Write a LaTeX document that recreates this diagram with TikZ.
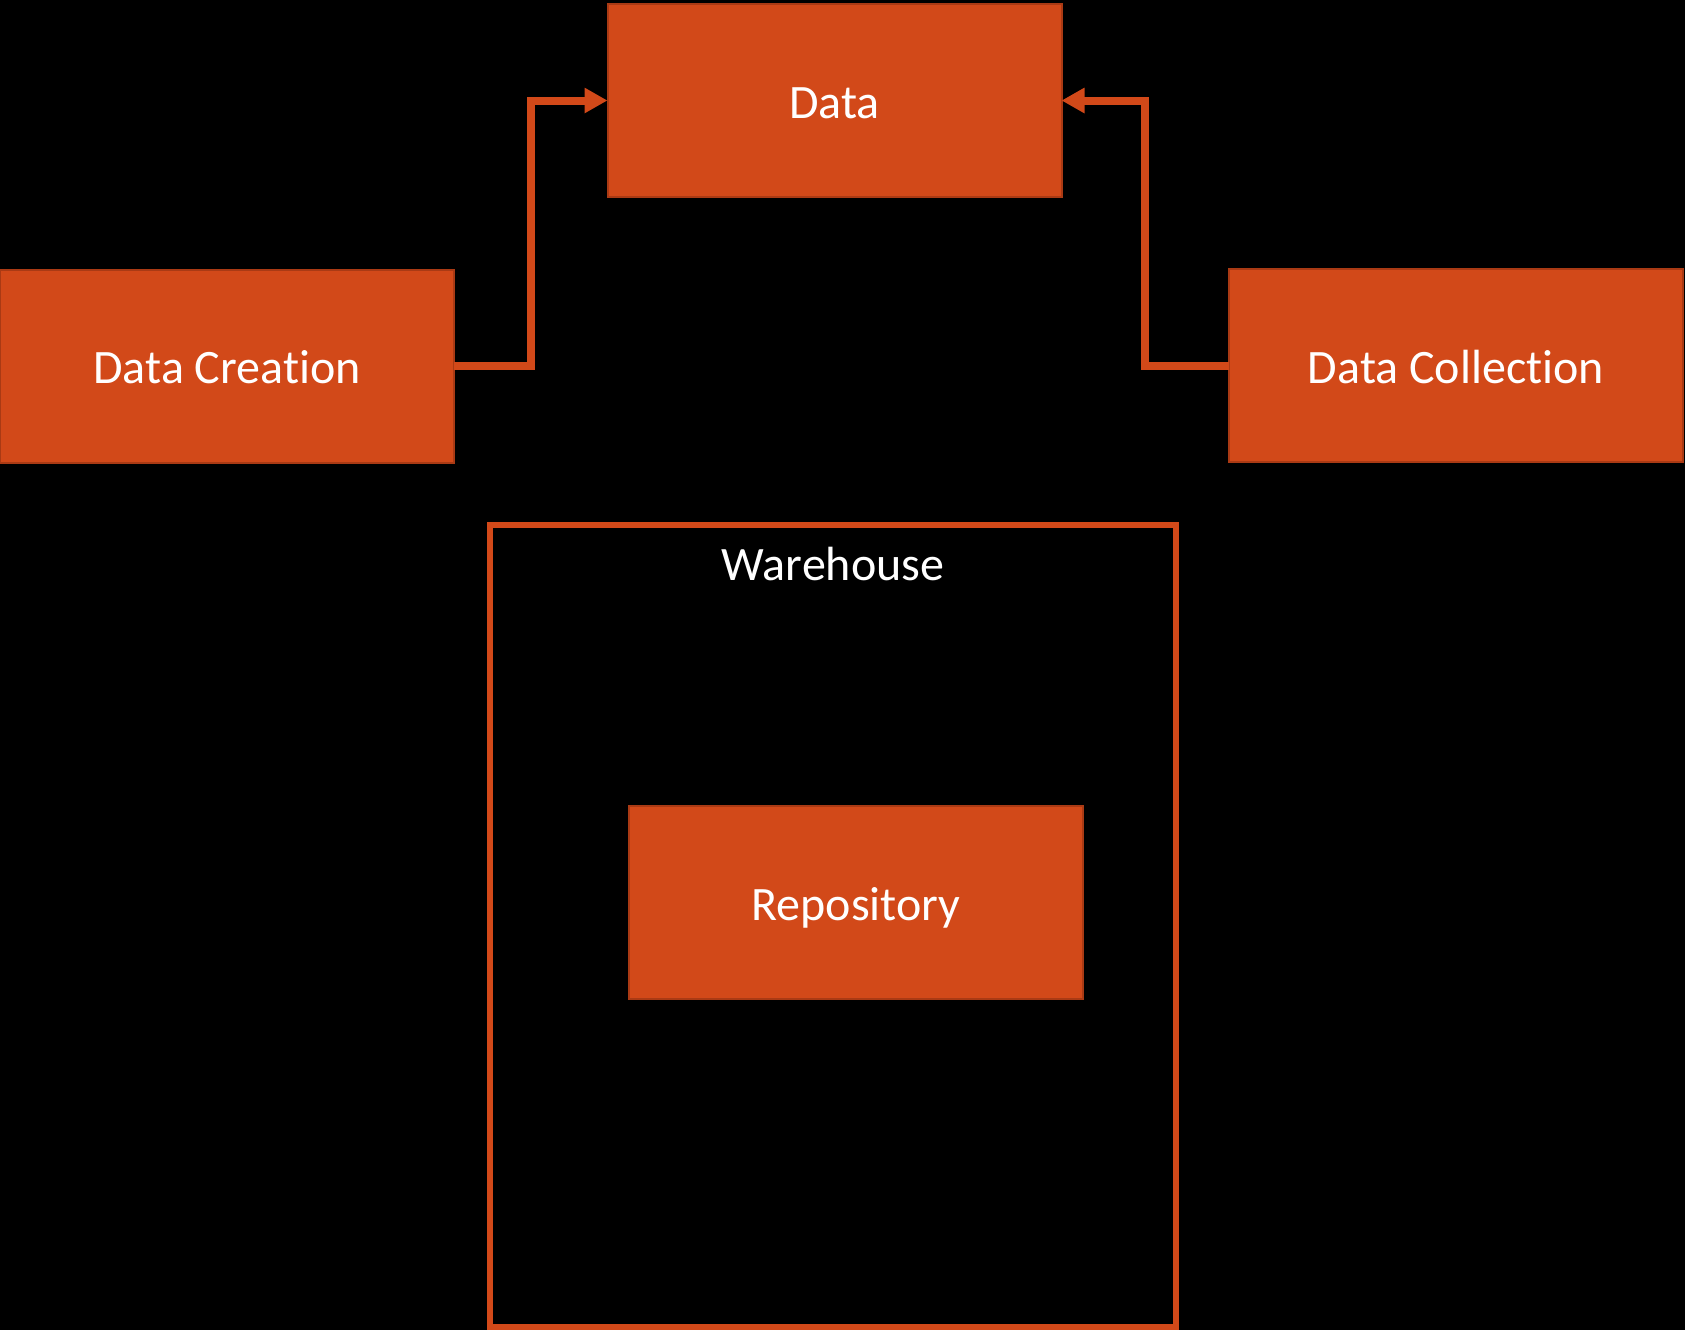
\documentclass[tikz,border=0pt]{standalone}
\usepackage{fontspec}
\setmainfont[Ligatures=NoCommon]{Carlito}
\usetikzlibrary{arrows.meta,calc}
\definecolor{boxfill}{RGB}{210,73,25}
\definecolor{boxedge}{RGB}{170,58,20}
\begin{document}
\begin{tikzpicture}[x=0.5pt,y=-0.5pt,
  box/.style={draw=boxedge,line width=1pt,fill=boxfill,text=white,inner sep=0pt,outer sep=0pt,
    minimum width=227pt,minimum height=96.5pt,text height=17.5pt,text depth=0pt,font=\fontsize{24}{28}\selectfont},
  conn/.style={draw=boxfill,line width=4pt,-{Triangle[length=11.5pt,width=12pt]}},
  frame/.style={draw=boxfill,line width=3pt,inner sep=0pt,outer sep=0pt,minimum width=343pt,minimum height=401pt},
  lbl/.style={text=white,inner sep=0pt,text height=15.5pt,text depth=0pt,font=\fontsize{24}{28}\selectfont}]
\fill[black] (0,0) rectangle (1685,1330);
\useasboundingbox (0,0) rectangle (1685,1330);
\node[box] (data) at (834.5,100.5) {Data};
\node[box] (dc) at (227,366) {Data Creation};
\node[box] (dcol) at (1456,365.5) {Data Collection};
\node[frame] (wh) at (833,926) {};
\node[lbl] (whl) at (833,564.5) {Warehouse};
\node[box] (repo) at (856,902.5) {Repository};
\draw[conn] (dc.east) -| ($(dc.east)!0.5!(data.west)$) |- (data.west);
\draw[conn] (dcol.west) -| ($(dcol.west)!0.5!(data.east)$) |- (data.east);
\end{tikzpicture}
\end{document}
